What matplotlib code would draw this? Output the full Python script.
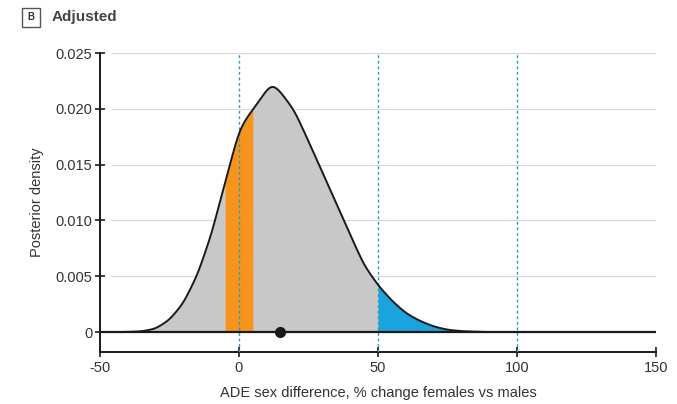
import numpy as np
import matplotlib.pyplot as plt
from matplotlib.patches import Rectangle

# posterior density of the adjusted ADE sex difference (% change, females vs males)
pct = [-45, -40, -35, -30, -25, -20, -15, -10, -5, 0, 3, 5, 8, 10, 12, 15,
       20, 25, 30, 35, 40, 45, 50, 55, 60, 65, 70, 75, 80, 85, 90, 100, 148]
density = [0.0, 0.00001, 0.00006, 0.0003, 0.0011, 0.0026, 0.0051, 0.0087, 0.0134,
           0.0180, 0.0193, 0.0199, 0.0210, 0.0217, 0.0222, 0.0215,
           0.0198, 0.0171, 0.0143, 0.0115, 0.0087, 0.0060, 0.0042, 0.0028,
           0.0017, 0.0010, 0.0005, 0.0002, 0.00008, 0.00003, 0.0, 0.0, 0.0]
rope = (-5, 5)
big_effect = 50
median_pct = 14.7
ref_lines = [0, 50, 100]

plt.rcParams['font.family'] = ['Liberation Sans', 'DejaVu Sans']
plt.rcParams['axes.unicode_minus'] = False

# fine grid, lightly smoothed so the outline is not jagged
x = np.linspace(min(pct), max(pct), 3860)
y = np.interp(x, pct, density)
step = x[1] - x[0]
k = np.arange(-60, 61) * step
kern = np.exp(-0.5 * (k / 1.3) ** 2)
kern /= kern.sum()
y = np.convolve(np.pad(y, 60, mode='edge'), kern, mode='valid')

fig = plt.figure(figsize=(6.77, 4.04), dpi=100)
ax = fig.add_axes([0.1477, 0.1287, 0.8213, 0.7401])

# light gridlines
for g in [0.005, 0.010, 0.015, 0.020, 0.025]:
    ax.hlines(g, -46, 150, color='#d9d9d9', lw=0.9, zorder=0)

ax.fill_between(x, 0, y, color='#c8c8c8', lw=0, zorder=1)
m = (x >= rope[0]) & (x <= rope[1])
ax.fill_between(x[m], 0, y[m], color='#f7941d', lw=0, zorder=2)
m = x >= big_effect
ax.fill_between(x[m], 0, y[m], color='#1ba3de', lw=0, zorder=2)
m = (x > -42) & (x < 95)
ax.plot(x[m], y[m], color='#1a1a1a', lw=1.4, zorder=4)

for v in ref_lines:
    ax.axvline(v, color='#2e9bb0', lw=1.0, ls=(0, (2, 2)), zorder=3)

ax.hlines(0, -50, 150, color='#1a1a1a', lw=1.6, zorder=5)
ax.plot([median_pct], [0], 'o', color='#1a1a1a', ms=7, zorder=6)

ax.set_xlim(-50, 150)
ax.set_ylim(-0.00179, 0.025)
ax.set_xticks([-50, 0, 50, 100, 150])
ax.set_yticks([0, 0.005, 0.010, 0.015, 0.020, 0.025])
ax.set_yticklabels(['0', '0.005', '0.010', '0.015', '0.020', '0.025'])
ax.tick_params(axis='both', direction='inout', length=7, width=1.2,
               labelsize=10.5, colors='#1a1a1a', labelcolor='#333333')
ax.tick_params(axis='y', pad=2)
ax.tick_params(axis='x', pad=3)

for s in ['top', 'right']:
    ax.spines[s].set_visible(False)
for s in ['left', 'bottom']:
    ax.spines[s].set_linewidth(1.4)
    ax.spines[s].set_color('#1a1a1a')

ax.set_xlabel('ADE sex difference, % change females vs males', fontsize=10.5,
              color='#333333', labelpad=8)
ax.set_ylabel('Posterior density', fontsize=10.5, color='#333333', labelpad=8)

# panel tag
fig.patches.append(Rectangle((22 / 677, 1 - 27 / 404), 18 / 677, 19 / 404,
                             transform=fig.transFigure, fill=False,
                             ec='#555555', lw=1.0))
fig.text(31 / 677, 1 - 17.5 / 404, 'B', fontsize=7, fontweight='bold',
         ha='center', va='center', color='#333333')
fig.text(52 / 677, 1 - 17 / 404, 'Adjusted', fontsize=11, fontweight='bold',
         ha='left', va='center', color='#444444')

fig.savefig('out.png', dpi=100)
